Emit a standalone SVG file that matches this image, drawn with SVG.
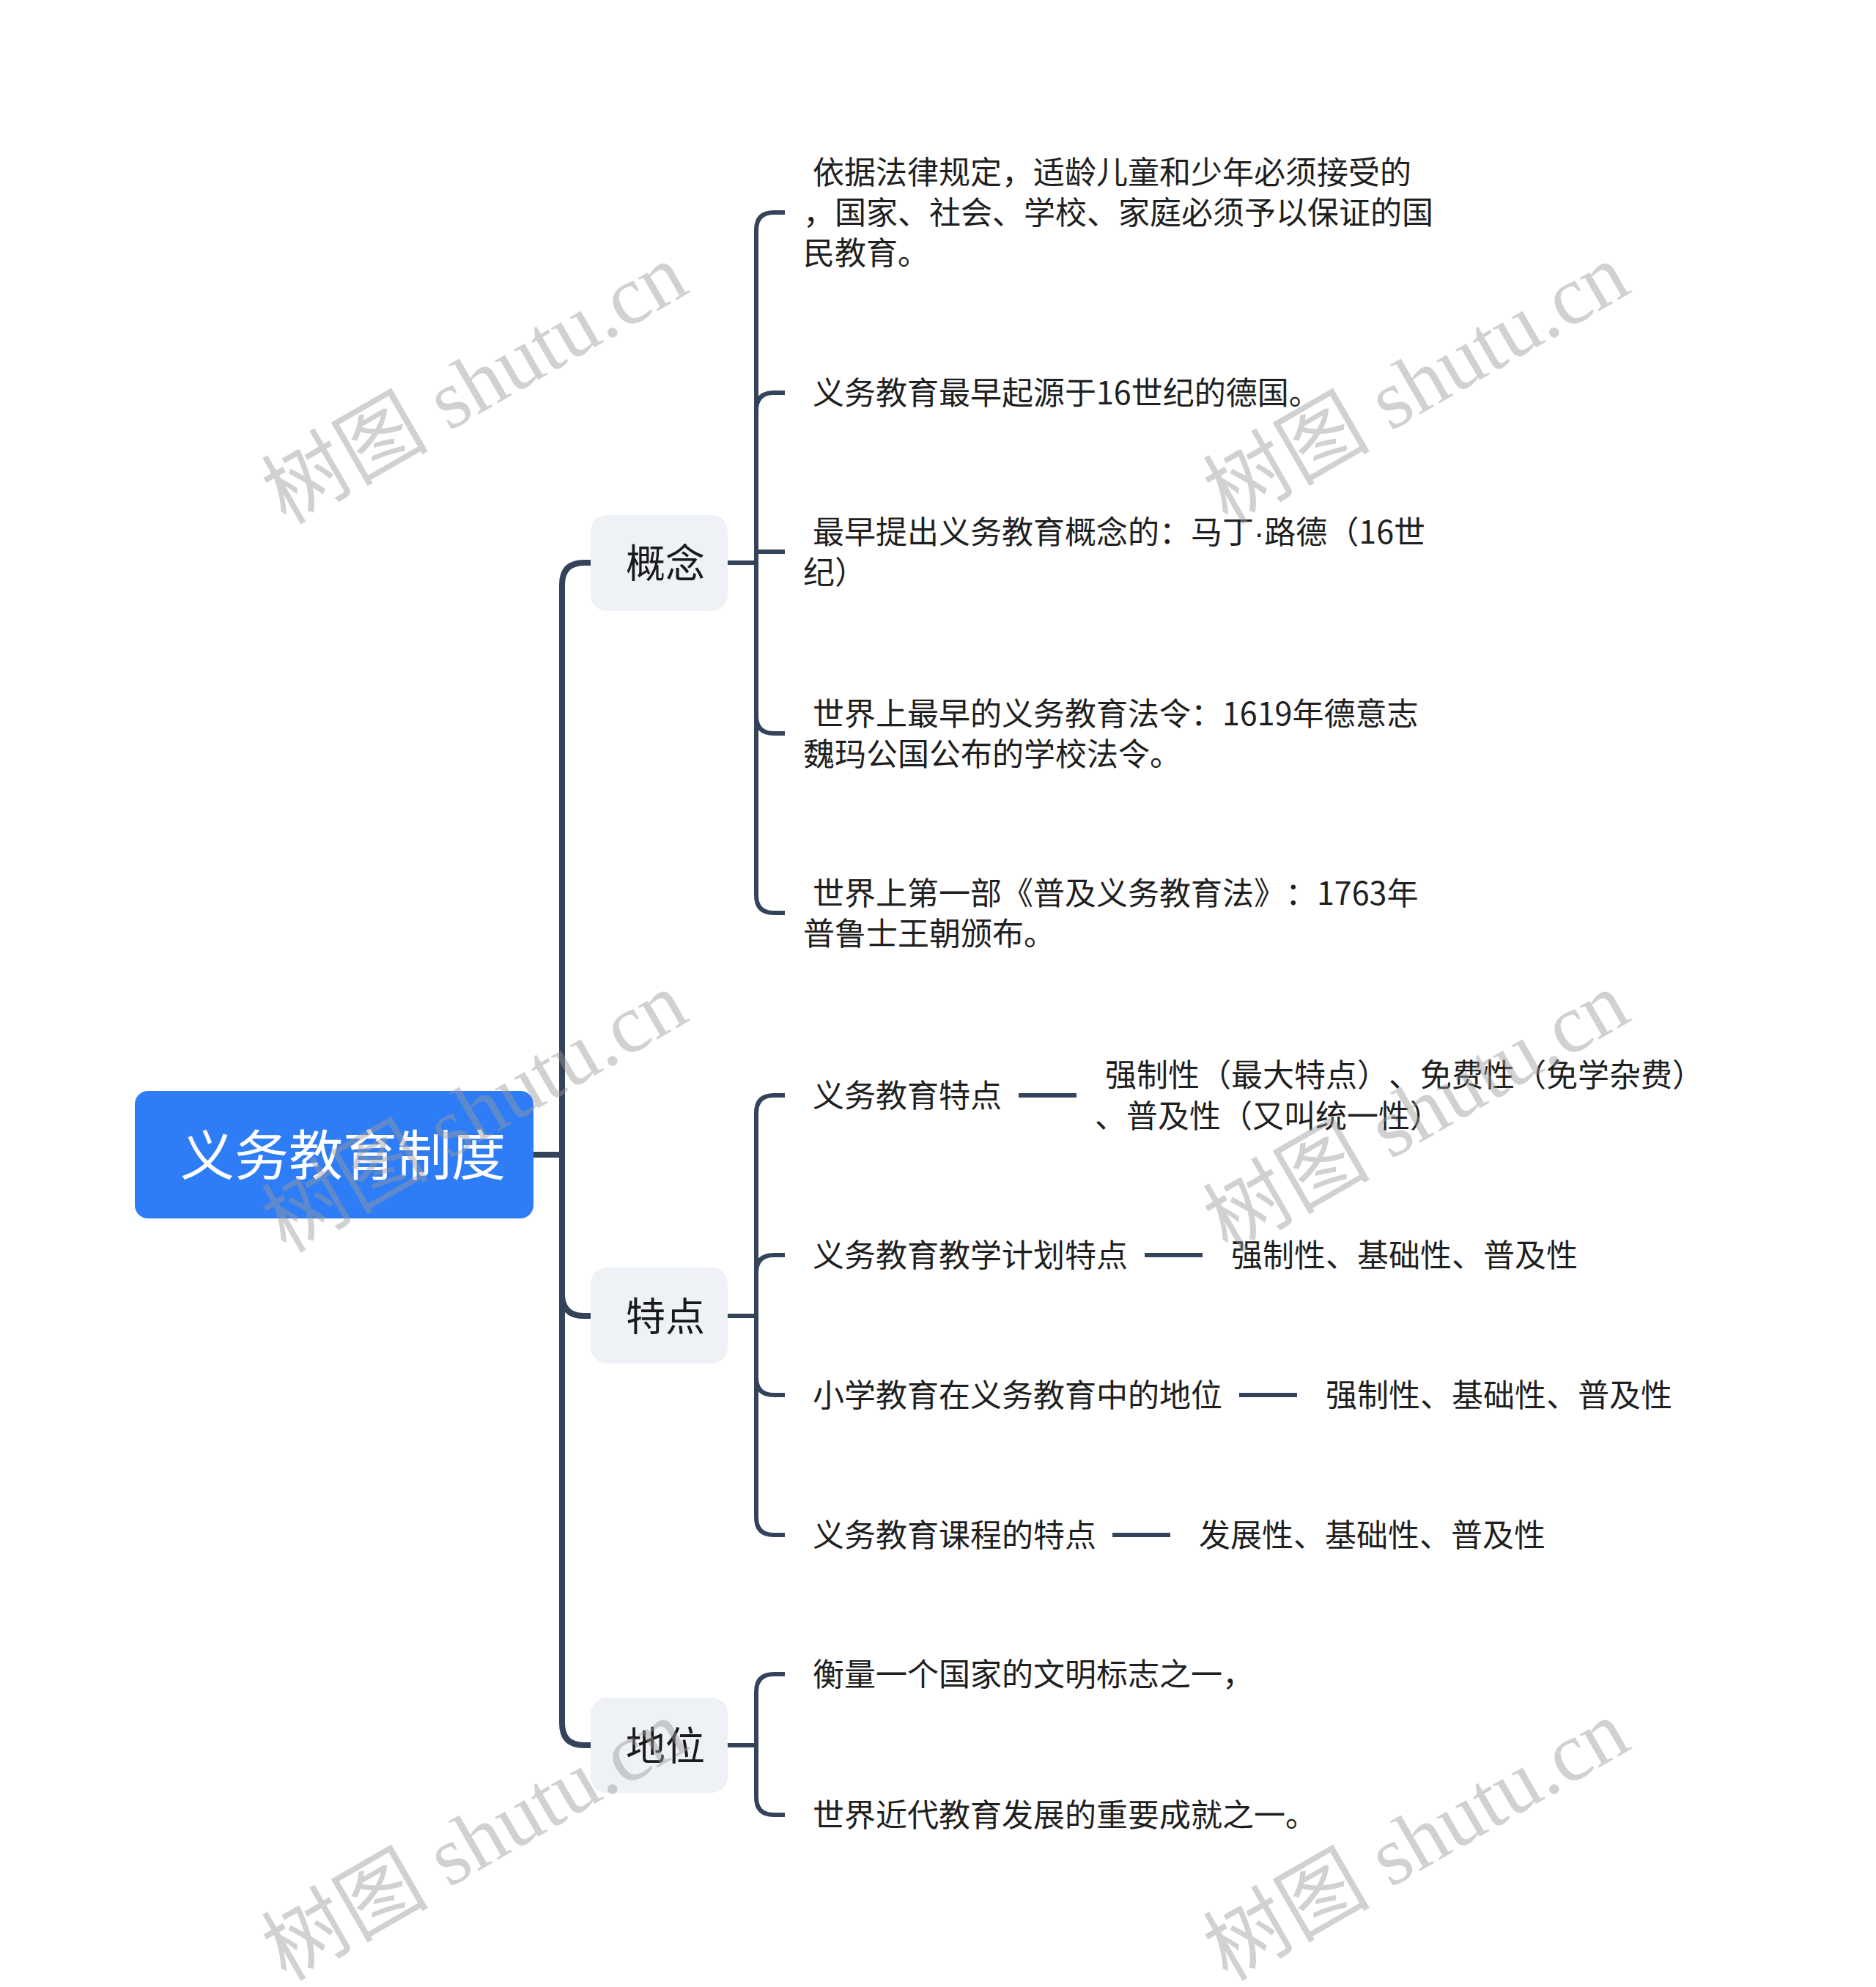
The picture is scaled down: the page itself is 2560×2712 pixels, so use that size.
<svg xmlns="http://www.w3.org/2000/svg" width="2560" height="2712" viewBox="0 0 2560 2712">
<style>
.t{font-family:'Noto Sans CJK SC','Noto Sans',sans-serif;font-size:43px;fill:#1f1f1f;text-spacing-trim:space-all;font-feature-settings:"halt" 0,"chws" 0}
.l1t{font-family:'Noto Sans CJK SC','Noto Sans',sans-serif;font-size:54px;fill:#1a1a1a}
.rt{font-family:'Noto Sans CJK SC','Noto Sans',sans-serif;font-size:74px;fill:#ffffff}
.dot{font-family:'Liberation Sans',sans-serif}
.l1box{fill:#eef1f5}
.c1{fill:none;stroke:#34435a;stroke-width:8}
.c2{fill:none;stroke:#34435a;stroke-width:6}
.wm{font-family:'Liberation Serif','Noto Sans CJK SC',serif;font-size:114px;fill:#9a9a9a;fill-opacity:0.45}
</style>
<rect width="2560" height="2712" fill="#ffffff"/>
<g id="connectors">
  <path class="c1" d="M728,1576 L767,1576"/>
  <path class="c1" d="M806,768 L797,768 Q767,768 767,798 L767,2352 Q767,2382 797,2382 L806,2382"/>
  <path class="c1" d="M767,1766 Q767,1796 797,1796 L806,1796"/>
  <path class="c2" d="M993,768 L1032,768"/>
  <path class="c2" d="M1071,290 L1056,290 Q1032,290 1032,314 L1032,1222 Q1032,1246 1056,1246 L1071,1246"/>
  <path class="c2" d="M1032,560 Q1032,536 1056,536 L1071,536"/>
  <path class="c2" d="M1032,753 L1071,753"/>
  <path class="c2" d="M1032,977 Q1032,1001 1056,1001 L1071,1001"/>
  <path class="c2" d="M993,1796 L1032,1796"/>
  <path class="c2" d="M1071,1495 L1056,1495 Q1032,1495 1032,1519 L1032,2071 Q1032,2095 1056,2095 L1071,2095"/>
  <path class="c2" d="M1032,1737 Q1032,1713 1056,1713 L1071,1713"/>
  <path class="c2" d="M1032,1880 Q1032,1904 1056,1904 L1071,1904"/>
  <path class="c2" d="M993,2382 L1032,2382"/>
  <path class="c2" d="M1071,2285 L1056,2285 Q1032,2285 1032,2309 L1032,2453 Q1032,2477 1056,2477 L1071,2477"/>
  <path class="c2" d="M1390,1495 L1469,1495"/>
  <path class="c2" d="M1562,1713 L1641,1713"/>
  <path class="c2" d="M1691,1904 L1770,1904"/>
  <path class="c2" d="M1518,2095 L1597,2095"/>
</g>
<g id="root">
  <rect x="184" y="1489" width="544" height="174" rx="18" fill="#2e7cf6"/>
  <text class="rt" x="246" y="1604">义务教育制度</text>
</g>
<g id="n-gainian">
  <rect class="l1box" x="806" y="703" width="187" height="131" rx="22"/>
  <text class="l1t" x="854" y="789">概念</text>
</g>
<g id="n-tedian">
  <rect class="l1box" x="806" y="1730" width="187" height="131" rx="22"/>
  <text class="l1t" x="854" y="1817">特点</text>
</g>
<g id="n-diwei">
  <rect class="l1box" x="806" y="2317" width="187" height="130" rx="22"/>
  <text class="l1t" x="854" y="2403">地位</text>
</g>
<g id="c1-1">
  <text class="t" x="1109" y="251">依据法律规定，适龄儿童和少年必须接受的</text>
  <text class="t" x="1096" y="306">，国家、社会、学校、家庭必须予以保证的国</text>
  <text class="t" x="1096" y="361">民教育。</text>
</g>
<g id="c1-2">
  <text class="t" x="1109" y="552">义务教育最早起源于16世纪的德国。</text>
</g>
<g id="c1-3">
  <text class="t" x="1109" y="742">最早提出义务教育概念的：马丁<tspan class="dot">·</tspan>路德（16世</text>
  <text class="t" x="1096" y="797">纪）</text>
</g>
<g id="c1-4">
  <text class="t" x="1109" y="990">世界上最早的义务教育法令：1619年德意志</text>
  <text class="t" x="1096" y="1045">魏玛公国公布的学校法令。</text>
</g>
<g id="c1-5">
  <text class="t" x="1109" y="1235">世界上第一部《普及义务教育法》：1763年</text>
  <text class="t" x="1096" y="1290">普鲁士王朝颁布。</text>
</g>
<g id="c2-1">
  <text class="t" x="1109" y="1511">义务教育特点</text>
</g>
<g id="c2-1-1">
  <text class="t" x="1508" y="1483">强制性（最大特点）、免费性（免学杂费）</text>
  <text class="t" x="1494" y="1539">、普及性（又叫统一性）</text>
</g>
<g id="c2-2">
  <text class="t" x="1109" y="1729">义务教育教学计划特点</text>
</g>
<g id="c2-2-1">
  <text class="t" x="1680" y="1729">强制性、基础性、普及性</text>
</g>
<g id="c2-3">
  <text class="t" x="1109" y="1920">小学教育在义务教育中的地位</text>
</g>
<g id="c2-3-1">
  <text class="t" x="1809" y="1920">强制性、基础性、普及性</text>
</g>
<g id="c2-4">
  <text class="t" x="1109" y="2111">义务教育课程的特点</text>
</g>
<g id="c2-4-1">
  <text class="t" x="1636" y="2111">发展性、基础性、普及性</text>
</g>
<g id="c3-1">
  <text class="t" x="1109" y="2301">衡量一个国家的文明标志之一，</text>
</g>
<g id="c3-2">
  <text class="t" x="1109" y="2493">世界近代教育发展的重要成就之一。</text>
</g>
<g id="watermarks">
  <text class="wm" text-anchor="middle" transform="translate(650,528) rotate(-30)" x="0" y="34">树图 shutu.cn</text>
  <text class="wm" text-anchor="middle" transform="translate(1935,528) rotate(-30)" x="0" y="34">树图 shutu.cn</text>
  <text class="wm" text-anchor="middle" transform="translate(650,1522) rotate(-30)" x="0" y="34">树图 shutu.cn</text>
  <text class="wm" text-anchor="middle" transform="translate(1935,1522) rotate(-30)" x="0" y="34">树图 shutu.cn</text>
  <text class="wm" text-anchor="middle" transform="translate(650,2516) rotate(-30)" x="0" y="34">树图 shutu.cn</text>
  <text class="wm" text-anchor="middle" transform="translate(1935,2516) rotate(-30)" x="0" y="34">树图 shutu.cn</text>
</g>
</svg>
